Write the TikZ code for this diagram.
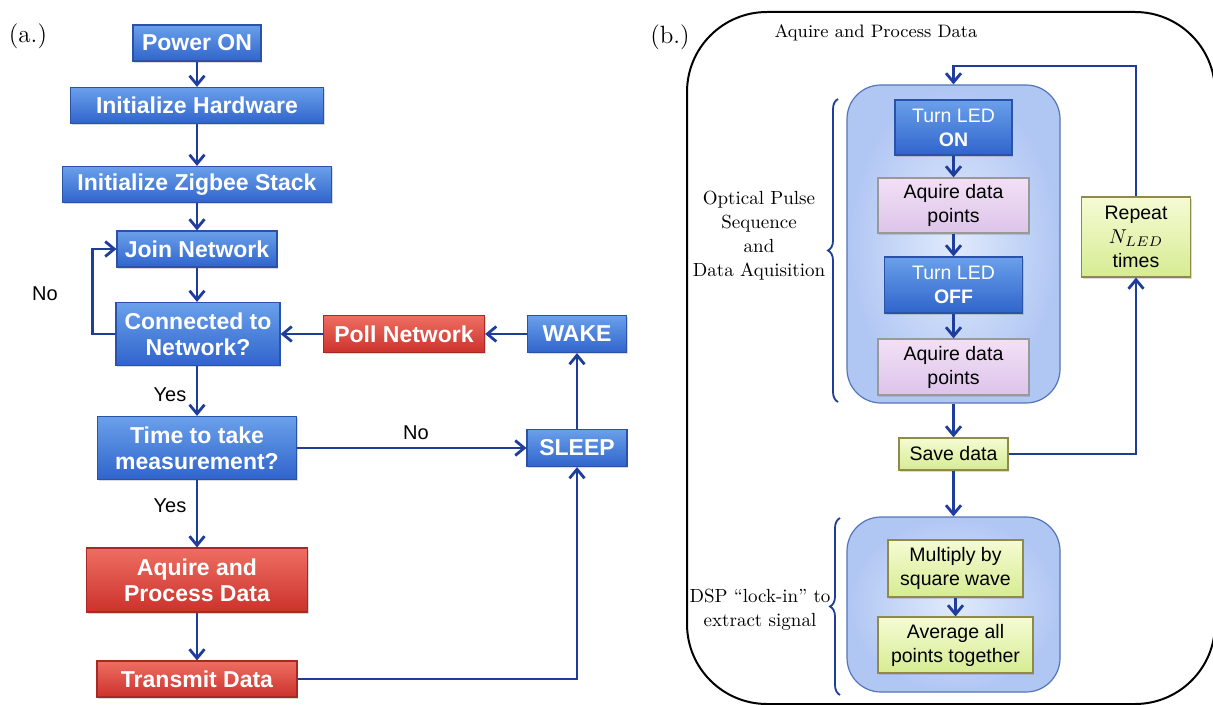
\documentclass[tikz,border=0pt]{standalone}
\usepackage{fontspec}
\setsansfont{Liberation Sans}
\usetikzlibrary{positioning,arrows.meta,shadows,decorations.pathreplacing}

\definecolor{arrowblue}{HTML}{1F3D9A}
\definecolor{boxtop}{HTML}{6AA0EA}
\definecolor{boxbot}{HTML}{3064CC}
\definecolor{boxline}{HTML}{2A52A8}
\definecolor{redtop}{HTML}{EE6E62}
\definecolor{redbot}{HTML}{CC322C}
\definecolor{redline}{HTML}{A62A24}
\definecolor{lilactop}{HTML}{F3E0F5}
\definecolor{lilacbot}{HTML}{DCC4EA}
\definecolor{greentop}{HTML}{F5FBD4}
\definecolor{greenbot}{HTML}{D6EC92}
\definecolor{groupin}{HTML}{E0EAFC}
\definecolor{groupout}{HTML}{B0C6F3}

\begin{document}
\begin{tikzpicture}[x=0.5pt, y=-0.5pt, font=\sffamily,
  blk/.style={draw, line width=0.6pt, inner sep=1pt, align=center,
    drop shadow={shadow xshift=0.6pt, shadow yshift=-0.9pt, opacity=0.3}},
  bluebox/.style={blk, draw=boxline, top color=boxtop, bottom color=boxbot, text=white},
  redbox/.style={blk, draw=redline, top color=redtop, bottom color=redbot, text=white},
  lilacbox/.style={blk, draw=gray!80, top color=lilactop, bottom color=lilacbot},
  greenbox/.style={blk, draw=olive!50!gray, top color=greentop, bottom color=greenbot},
  bigtxt/.style={font=\sffamily\bfseries\fontsize{11.5}{13}\selectfont},
  smalltxt/.style={font=\sffamily\fontsize{9.75}{12}\selectfont},
  group/.style={draw=boxline!80, line width=0.6pt, rounded corners=17pt,
    inner color=groupin, outer color=groupout},
  flow/.style={draw=arrowblue, line width=1.4pt,
    -{Straight Barb[length=4.5pt, width=7.5pt, line width=1.4pt]}},
  tag/.style={font=\sffamily\fontsize{10}{12}\selectfont},
  brace/.style={draw=arrowblue, line width=0.9pt, decorate,
    decoration={brace, amplitude=5pt}},
  note/.style={font=\rmfamily\fontsize{9.5}{12}\selectfont, align=center}
]
  \useasboundingbox (0,0) rectangle (1213,705);

  % Panel labels
  \node[font=\rmfamily\fontsize{12.5}{14}\selectfont] (pa) at (28,36) {(a.)};
  \node[font=\rmfamily\fontsize{12.5}{14}\selectfont] (pb) at (670,37) {(b.)};

  % Start-up chain
  \foreach \nm/\ypos/\wid/\lbl in {
    pwr/43/64/Power ON,
    hw/105.5/126.5/Initialize Hardware,
    zig/184.5/134.5/Initialize Zigbee Stack,
    join/249/80/Join Network}
    \node[bluebox, bigtxt, minimum width=\wid pt, minimum height=18pt] (\nm) at (197,\ypos) {\lbl};

  % Decisions and actions
  \node[bluebox, bigtxt, minimum width=82pt, minimum height=31.5pt] (conn) at (198,334) {Connected to\\Network?};
  \node[redbox, bigtxt, minimum width=80.5pt, minimum height=18.5pt] (poll) at (404,334) {Poll Network};
  \node[bluebox, bigtxt, minimum width=49.5pt, minimum height=18.5pt] (wake) at (577,334) {WAKE};
  \node[bluebox, bigtxt, minimum width=99.5pt, minimum height=31.5pt] (time) at (197,448) {Time to take\\measurement?};
  \node[bluebox, bigtxt, minimum width=50pt, minimum height=18.5pt] (sleep) at (577,448) {SLEEP};
  \node[redbox, bigtxt, minimum width=110.5pt, minimum height=32pt] (acq) at (197,580) {Aquire and\\Process Data};
  \node[redbox, bigtxt, minimum width=100pt, minimum height=18pt] (tx) at (197,679) {Transmit Data};

  % Branch labels
  \node[tag] (no1) at (45,294) {No};
  \node[tag] (yes1) at (170,395) {Yes};
  \node[tag] (no2) at (416,433) {No};
  \node[tag] (yes2) at (170,506) {Yes};

  % Left connectors
  \draw[flow] (pwr) -- (hw);
  \draw[flow] (hw) -- (zig);
  \draw[flow] (zig) -- (join);
  \draw[flow] (join) -- (join |- conn.north);
  \draw[flow] (conn.west) -- ++(-23,0) |- (join.west);
  \draw[flow] (conn.south -| time.north) -- (time.north);
  \draw[flow] (wake) -- (poll);
  \draw[flow] (poll) -- (conn);
  \draw[flow] (sleep) -- (wake);
  \draw[flow] (time) -- (sleep);
  \draw[flow] (time) -- (acq);
  \draw[flow] (acq) -- (tx);
  \draw[flow] (tx.east) -| (sleep.south);

  % Outer frame of panel (b.)
  \draw[line width=1pt, rounded corners=40pt] (687,12) rectangle (1215,704);
  \node[note, font=\rmfamily\fontsize{9}{12}\selectfont] (title) at (876,33) {Aquire and Process Data};

  % Pulse sequence group
  \node[group, minimum width=106.5pt, minimum height=159pt] (grpa) at (953.5,244) {};
  \node[bluebox, smalltxt, minimum width=58.5pt, minimum height=27.5pt] (ledon) at (953.5,127.5) {Turn LED\\\textbf{ON}};
  \node[lilacbox, smalltxt, minimum width=75.5pt, minimum height=27.5pt] (aqa) at (953.5,205.5) {Aquire data\\points};
  \node[bluebox, smalltxt, minimum width=69pt, minimum height=28pt] (ledoff) at (953.5,285) {Turn LED\\\textbf{OFF}};
  \node[lilacbox, smalltxt, minimum width=75.5pt, minimum height=28pt] (aqb) at (953.5,367) {Aquire data\\points};
  \node[greenbox, smalltxt, minimum width=54.5pt, minimum height=40pt] (rep) at (1136,237) {Repeat\\$N_{LED}$\\times};
  \node[greenbox, smalltxt, minimum width=54.5pt, minimum height=16pt] (save) at (953.5,454) {Save data};

  % DSP group
  \node[group, minimum width=106.5pt, minimum height=87.5pt] (grpb) at (953.5,604.5) {};
  \node[greenbox, smalltxt, minimum width=67.5pt, minimum height=28.5pt] (mult) at (955.5,568.5) {Multiply by\\square wave};
  \node[greenbox, smalltxt, minimum width=77.5pt, minimum height=28pt] (avg) at (955.5,645) {Average all\\points together};

  % Right connectors
  \coordinate (looptop) at (1136,66);
  \draw[flow] (rep.north) -- (looptop) -| (grpa.north);
  \draw[flow] (ledon) -- (aqa);
  \draw[flow] (aqa) -- (ledoff);
  \draw[flow] (ledoff) -- (aqb);
  \draw[flow] (grpa.south) -- (save.north);
  \draw[flow] (save.east) -| (rep.south);
  \draw[flow] (save.south) -- (grpb.north);
  \draw[flow] (mult) -- (avg);

  % Braces and notes
  \draw[brace] (838,402) -- (838,99);
  \draw[brace] (840,695) -- (840,518);
  \node[note] (optnote) at (759,236) {Optical Pulse\\Sequence\\and\\Data Aquisition};
  \node[note] (dspnote) at (760,610) {DSP ``lock-in'' to\\extract signal};

\end{tikzpicture}
\end{document}
